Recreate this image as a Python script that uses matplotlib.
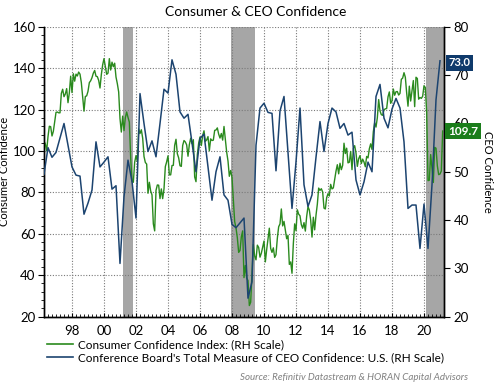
import numpy as np
import matplotlib
matplotlib.use("Agg")
import matplotlib.pyplot as plt
from matplotlib.ticker import MultipleLocator, FixedLocator
from matplotlib.transforms import blended_transform_factory
from matplotlib.lines import Line2D

plt.rcParams['font.family'] = ['Lato', 'DejaVu Sans']

# Consumer Confidence Index, monthly, Apr 1996 - Mar 2021
cci_start = 1996.25
cci = [
    104.8, 103.5, 100.1, 107.0, 112.0, 111.8, 107.3, 109.5, 114.2,          # 1996 Apr-Dec
    118.7, 118.9, 118.5, 118.5, 127.9, 129.9, 126.3, 127.6, 130.2, 123.4, 128.1, 136.2,  # 1997
    128.3, 137.4, 133.8, 137.2, 136.3, 138.2, 137.2, 133.1, 126.4, 119.3, 126.4, 126.7,  # 1998
    128.9, 133.1, 134.0, 135.5, 137.7, 139.0, 136.2, 136.0, 134.2, 130.5, 137.0, 141.7,  # 1999
    144.7, 140.8, 137.1, 137.7, 144.7, 139.2, 143.0, 140.8, 142.5, 135.8, 132.6, 128.6,  # 2000
    115.7, 109.2, 116.9, 109.9, 116.1, 118.9, 116.3, 114.0, 97.0, 85.3, 84.9, 94.6,     # 2001
    97.8, 95.0, 110.7, 108.5, 110.3, 106.3, 97.4, 94.5, 93.7, 79.6, 84.9, 80.7,         # 2002
    78.8, 64.8, 61.4, 81.0, 83.6, 83.5, 77.0, 81.7, 77.0, 81.7, 92.5, 94.8,             # 2003
    97.7, 88.5, 88.5, 93.0, 93.1, 102.8, 105.7, 98.7, 96.7, 92.9, 92.6, 102.7,          # 2004
    105.1, 104.4, 103.0, 97.5, 103.1, 106.2, 103.6, 105.5, 87.5, 85.2, 98.3, 103.8,     # 2005
    106.8, 102.7, 107.5, 109.8, 104.7, 105.4, 107.0, 100.2, 105.9, 105.1, 105.3, 110.0, # 2006
    110.2, 111.2, 108.2, 106.3, 108.5, 105.3, 111.9, 105.6, 99.5, 95.2, 87.8, 90.6,     # 2007
    87.3, 76.4, 65.9, 62.8, 58.1, 51.0, 51.9, 58.5, 61.4, 38.8, 44.7, 38.6,             # 2008
    37.4, 25.3, 26.9, 40.8, 54.8, 49.3, 47.4, 54.5, 53.4, 48.7, 50.6, 53.6,             # 2009
    56.5, 46.4, 52.3, 57.7, 62.7, 52.9, 51.0, 53.2, 48.6, 49.9, 57.8, 63.4,             # 2010
    64.8, 72.0, 63.8, 66.0, 61.7, 57.6, 59.2, 45.2, 46.4, 40.9, 55.2, 64.8,             # 2011
    61.5, 71.6, 69.5, 68.7, 64.4, 62.7, 65.4, 61.3, 68.4, 73.1, 71.5, 66.7,             # 2012
    58.4, 68.0, 61.9, 69.0, 74.3, 82.1, 81.0, 81.8, 80.2, 72.4, 72.0, 77.5,             # 2013
    79.4, 78.3, 83.9, 81.7, 82.2, 86.4, 90.3, 93.4, 89.0, 94.1, 91.0, 93.1,             # 2014
    103.8, 98.8, 101.4, 94.3, 94.6, 99.8, 91.0, 101.3, 102.6, 99.1, 92.6, 96.3,         # 2015
    97.8, 94.0, 96.1, 94.7, 92.4, 97.4, 96.7, 101.1, 103.5, 100.8, 109.4, 113.7,        # 2016
    111.6, 116.1, 124.9, 119.4, 117.6, 117.3, 120.0, 120.4, 120.6, 126.2, 128.6, 123.1, # 2017
    124.3, 130.0, 127.0, 128.7, 128.8, 127.1, 127.9, 134.7, 135.3, 137.9, 135.7, 128.1, # 2018
    121.7, 131.4, 124.2, 129.2, 134.1, 121.5, 135.7, 135.1, 125.1, 125.9, 125.5, 126.5, # 2019
    131.6, 130.7, 118.8, 85.7, 85.9, 98.3, 91.7, 84.8, 101.8, 101.4, 92.9, 88.6,        # 2020
    88.9, 90.4, 109.7,                                                                # 2021
]

# CEO Confidence, quarterly, Q2 1996 - Q1 2021
ceo_start = 1996.25
ceo = [
    49.5, 55.0, 53.0,              # 1996 Q2-Q4
    54.0, 57.0, 60.0, 55.5,        # 1997
    51.0, 49.3, 49.1, 41.2,        # 1998
    43.5, 46.2, 56.2, 51.0,        # 1999
    52.0, 53.1, 46.4, 47.1,        # 2000
    31.0, 44.8, 52.4, 48.0,        # 2001
    40.4, 66.2, 60.0, 54.2,        # 2002
    56.4, 53.1, 60.0, 67.1,        # 2003
    66.3, 73.2, 70.2, 62.4,        # 2004
    61.1, 61.9, 56.0, 50.0,        # 2005
    56.9, 57.8, 51.0, 44.1,        # 2006
    50.0, 53.1, 45.2, 44.1,        # 2007
    39.1, 38.4, 39.4, 40.4,        # 2008
    23.8, 27.2, 55.5, 63.2,        # 2009
    64.2, 62.3, 62.1, 50.2,        # 2010
    62.6, 65.6, 54.0, 42.4,        # 2011
    52.0, 63.2, 47.3, 42.8,        # 2012
    45.2, 53.0, 60.4, 54.2,        # 2013
    60.0, 63.2, 62.4, 59.0,        # 2014
    60.0, 57.6, 58.2, 48.3,        # 2015
    45.2, 47.9, 52.0, 50.0,        # 2016
    65.6, 68.1, 61.1, 59.1,        # 2017
    63.0, 65.2, 63.2, 56.2,        # 2018
    42.4, 43.1, 43.1, 34.1,        # 2019
    43.3, 34.1, 47.3, 64.9,        # 2020
    73.0,                          # 2021 Q1
]

recessions = [(2001.19, 2001.83), (2007.95, 2009.42), (2020.12, 2021.25)]
x_ticks = [1998, 2000, 2002, 2004, 2006, 2008, 2010, 2012, 2014, 2016, 2018, 2020]
x_labels = ['98', '00', '02', '04', '06', '08', '10', '12', '14', '16', '18', '20']

green = '#2a8a1e'
blue = '#1c4470'
label_green = '#1b7d1b'
label_blue = '#0f3a6b'

cci_x = cci_start + np.arange(len(cci)) / 12.0
ceo_x = ceo_start + np.arange(len(ceo)) * 0.25

fig = plt.figure(figsize=(4.96, 3.85), dpi=100)
ax = fig.add_axes([44/496, 1 - 316.5/385, 400/496, 289.5/385])
ax2 = ax.twinx()

for a, b in recessions:
    ax.axvspan(a, b, color='#a6a6a6', lw=0, zorder=0.5)

ax.plot(cci_x, cci, color=green, lw=1.0, zorder=3)
ax2.plot(ceo_x, ceo, color=blue, lw=1.1, zorder=3)

ax.set_xlim(1996.25, 2021.25)
ax.set_ylim(20, 160)
ax2.set_ylim(20, 80)

ax.yaxis.set_major_locator(MultipleLocator(20))
ax.yaxis.set_minor_locator(MultipleLocator(4))
ax2.yaxis.set_major_locator(MultipleLocator(10))
ax.xaxis.set_major_locator(FixedLocator(x_ticks))
ax.set_xticklabels(x_labels)
ax.xaxis.set_minor_locator(MultipleLocator(0.25))

ax.grid(True, which='major', color='#7a7a7a', linestyle=(0, (1, 1.5)), lw=0.8)

for a in (ax, ax2):
    a.spines['top'].set_visible(False)
    for s in a.spines.values():
        s.set_linewidth(1.0)
        s.set_color('black')

ax.tick_params(axis='y', which='major', direction='out', length=4, labelsize=9.5, pad=2, colors='black')
ax.tick_params(axis='y', which='minor', direction='out', length=2)
ax.tick_params(axis='x', which='major', direction='in', length=3, labelsize=9.5, pad=6)
ax.tick_params(axis='x', which='minor', direction='in', length=2)
ax2.tick_params(axis='y', which='major', direction='out', length=4, labelsize=9.5, pad=3)

ax.set_ylabel('Consumer Confidence', fontsize=8)
ax.yaxis.set_label_coords((10 - 44) / 400, 0.5)
ax2.set_ylabel('CEO Confidence', fontsize=8, rotation=270, va='center')
ax2.yaxis.set_label_coords((487 - 44) / 400, 0.5)

# value boxes
tr_r = blended_transform_factory(ax2.transAxes, ax2.transData)
tr_l = blended_transform_factory(ax2.transAxes, ax.transData)
ax2.text(1.012, ceo[-1] - 0.4, f'{ceo[-1]:.1f}', transform=tr_r, ha='left', va='center',
         color='white', fontsize=8, fontweight='bold', zorder=20, clip_on=False,
         bbox=dict(boxstyle='square,pad=0.22', fc=label_blue, ec='none'))
ax2.text(1.010, cci[-1], f'{cci[-1]:.1f}', transform=tr_l, ha='left', va='center',
         color='white', fontsize=8.5, fontweight='bold', zorder=20, clip_on=False,
         bbox=dict(boxstyle='square,pad=0.25', fc=label_green, ec='none'))

fig.text(256/496, 1 - 12/385, 'Consumer & CEO Confidence', ha='center', va='center', fontsize=10)

handles = [Line2D([], [], color=green, lw=1.2), Line2D([], [], color=blue, lw=1.2)]
labels = ['Consumer Confidence Index: (RH Scale)',
          "Conference Board's Total Measure of CEO Confidence: U.S. (RH Scale)"]
fig.legend(handles, labels, loc='upper left', bbox_to_anchor=(47/496, 1 - 339/385),
           frameon=False, fontsize=8.5, borderpad=0, borderaxespad=0, labelspacing=0.2,
           handlelength=2.2, handletextpad=0.45)

fig.text(468/496, 1 - 377/385, 'Source: Refinitiv Datastream & HORAN Capital Advisors',
         ha='right', va='center', fontsize=7, style='italic', color='#808080')

fig.savefig('out.png', dpi=100)
